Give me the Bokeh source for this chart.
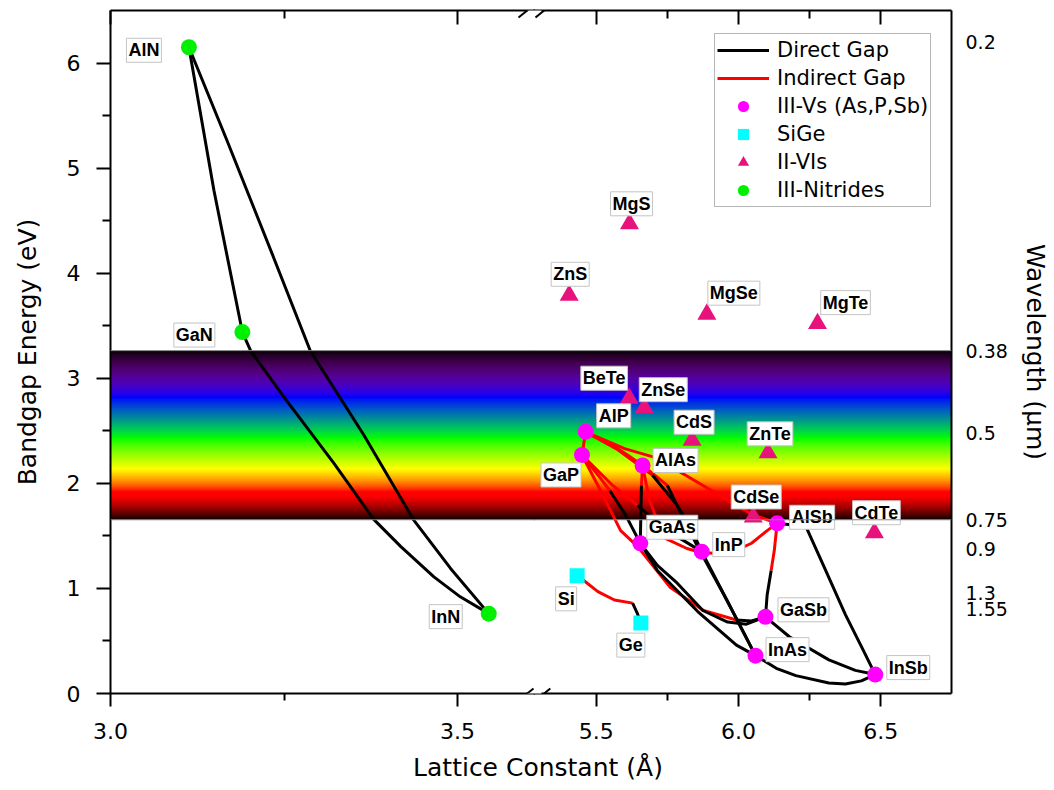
import numpy as np
from bokeh.plotting import figure
from bokeh.models import (Range1d, LinearAxis, FixedTicker, Span, Legend, LegendItem,
                          ColumnDataSource, Div, Arrow, PrintfTickFormatter)
from bokeh.layouts import row, column
from bokeh.embed import file_html
from bokeh.resources import INLINE
from bokeh.core.properties import value

# ---------------- data (lattice constant in Angstrom, gap in eV) ----------------
nitride_names = ["AlN", "GaN", "InN"]
nitride_a = [3.113, 3.190, 3.545]
nitride_eg = [6.15, 3.44, 0.76]

iii_v_names = ["AlP", "GaP", "AlAs", "GaAs", "InP", "AlSb", "GaSb", "InAs", "InSb"]
iii_v_a = [5.463, 5.450, 5.663, 5.655, 5.871, 6.136, 6.095, 6.060, 6.481]
iii_v_eg = [2.49, 2.27, 2.17, 1.43, 1.35, 1.62, 0.73, 0.36, 0.18]

sige_names = ["Si", "Ge"]
sige_a = [5.433, 5.657]
sige_eg = [1.12, 0.67]

ii_vi_names = ["MgS", "ZnS", "MgSe", "MgTe", "BeTe", "ZnSe", "CdS", "ZnTe", "CdSe", "CdTe"]
ii_vi_a = [5.617, 5.405, 5.889, 6.278, 5.616, 5.669, 5.837, 6.104, 6.052, 6.478]
ii_vi_eg = [4.47, 3.79, 3.61, 3.52, 2.81, 2.72, 2.41, 2.29, 1.68, 1.53]

wavelength_ticks_um = [0.2, 0.38, 0.5, 0.75, 0.9, 1.3, 1.55]
visible_um = [0.38, 0.75]

# alloy curves: (lattice constants, gaps)
# direct-gap branches (black)
AlN_GaN = ([3.113, 3.149, 3.190], [6.15, 4.79, 3.44])
AlN_InN = ([3.113, 3.168, 3.235, 3.288, 3.365, 3.437, 3.490, 3.545],
           [6.15, 5.26, 4.15, 3.26, 2.46, 1.65, 1.19, 0.76])
GaN_InN = ([3.190, 3.202, 3.250, 3.322, 3.379, 3.418, 3.466, 3.504, 3.545],
           [3.44, 3.26, 2.82, 2.19, 1.66, 1.40, 1.11, 0.92, 0.76])
AlAs_GaAs_d = ([5.659, 5.655], [1.98, 1.43])
GaP_GaAs_d = ([5.548, 5.603, 5.655], [1.93, 1.70, 1.43])
AlP_InP_d = ([5.697, 5.785, 5.837, 5.871], [2.08, 1.79, 1.55, 1.35])
GaP_InP_d = ([5.645, 5.750, 5.871], [1.79, 1.55, 1.35])
AlAs_InAs_d = ([5.750, 5.854, 5.959, 6.060], [1.98, 1.41, 0.89, 0.36])
GaAs_InAs = ([5.655, 5.715, 5.857, 5.993, 6.060], [1.43, 1.17, 0.78, 0.46, 0.36])
InP_InAs = ([5.871, 5.959, 6.060], [1.35, 0.89, 0.36])
GaAs_GaSb = ([5.655, 5.715, 5.785, 5.875, 5.962, 6.028, 6.095],
             [1.43, 1.22, 1.05, 0.79, 0.68, 0.66, 0.73])
GaP_GaSb_d = ([5.993, 6.046, 6.095], [0.70, 0.69, 0.73])
AlSb_GaSb_d = ([6.115, 6.101, 6.095], [1.17, 0.94, 0.73])
AlSb_InSb = ([6.136, 6.237, 6.307, 6.376, 6.439, 6.481], [1.62, 1.59, 1.17, 0.75, 0.41, 0.18])
GaSb_InSb = ([6.095, 6.179, 6.318, 6.411, 6.481], [0.73, 0.54, 0.32, 0.22, 0.18])
InAs_InSb = ([6.060, 6.133, 6.202, 6.318, 6.376, 6.432, 6.481],
             [0.36, 0.24, 0.17, 0.10, 0.09, 0.12, 0.18])
Si_Ge_d = ([5.628, 5.645, 5.657], [0.86, 0.76, 0.67])
# indirect-gap branches (red)
AlP_GaP_i = ([5.463, 5.450], [2.49, 2.27])
AlP_AlAs_i = ([5.463, 5.564, 5.610, 5.663], [2.49, 2.35, 2.27, 2.17])
AlP_AlSb_i = ([5.463, 5.600, 5.703, 5.819, 5.993, 6.052, 6.136],
              [2.49, 2.33, 2.25, 2.07, 1.79, 1.70, 1.62])
AlAs_AlSb_i = ([5.663, 5.687, 5.739, 5.819, 5.872, 5.966, 6.046, 6.101, 6.136],
               [2.17, 1.84, 1.48, 1.38, 1.34, 1.33, 1.43, 1.55, 1.62])
AlAs_GaAs_i = ([5.663, 5.659], [2.17, 1.98])
GaP_GaAs_i = ([5.450, 5.506, 5.548], [2.27, 2.08, 1.93])
AlP_InP_i = ([5.463, 5.576, 5.697], [2.49, 2.32, 2.08])
GaP_InP_i = ([5.450, 5.558, 5.645], [2.27, 1.98, 1.79])
AlAs_InAs_i = ([5.663, 5.750], [2.17, 1.98])
GaP_GaSb_i = ([5.450, 5.506, 5.586, 5.645, 5.760, 5.877, 5.993],
              [2.27, 1.98, 1.55, 1.40, 1.01, 0.79, 0.70])
AlSb_GaSb_i = ([6.136, 6.126, 6.115], [1.62, 1.36, 1.17])
Si_Ge_i = ([5.433, 5.454, 5.506, 5.564, 5.628], [1.12, 1.08, 0.97, 0.89, 0.86])

left_direct = [AlN_GaN, AlN_InN, GaN_InN]
right_direct = [AlAs_GaAs_d, GaP_GaAs_d, AlP_InP_d, GaP_InP_d, AlAs_InAs_d, GaAs_InAs,
                InP_InAs, GaAs_GaSb, GaP_GaSb_d, AlSb_GaSb_d, AlSb_InSb, GaSb_InSb,
                InAs_InSb, Si_Ge_d]
right_indirect = [AlP_GaP_i, AlP_AlAs_i, AlP_AlSb_i, AlAs_AlSb_i, AlAs_GaAs_i, GaP_GaAs_i,
                  AlP_InP_i, GaP_InP_i, AlAs_InAs_i, GaP_GaSb_i, AlSb_GaSb_i, Si_Ge_i]

# ---------------- styling / layout ----------------
SANS = "DejaVu Sans"
TAG_FONT = "Liberation Sans"
MAGENTA, CYAN, PINK, GREEN = "#ff00ff", "#00ffff", "#e8127c", "#00f000"

# label offsets in screen pixels (dx, dy)
tag_offsets = {
    "AlN": (-45, 3), "GaN": (-48, 3), "InN": (-43, 3),
    "AlP": (28, -16), "GaP": (-21, 20), "AlAs": (33, -5), "GaAs": (32, -16),
    "InP": (27, -7), "AlSb": (35, -6), "GaSb": (38, -7), "InAs": (32, -6), "InSb": (33, -7),
    "Si": (-11, 23), "Ge": (-10, 22),
    "MgS": (2, -20), "ZnS": (1, -21), "MgSe": (27, -21), "MgTe": (28, -21),
    "BeTe": (-25, -20), "ZnSe": (19, -18), "CdS": (2, -18), "ZnTe": (2, -19),
    "CdSe": (3, -20), "CdTe": (2, -20),
}

FRAME_TOP, FRAME_H = 10, 683
PX_PER_A_LEFT = 694.0
PX_PER_A_RIGHT = 287.2
PX_PER_EV = FRAME_H / 6.5
H = 745
y_range = Range1d(0.0, 6.5)
x_left = Range1d(3.0, 3.0 + 425 / PX_PER_A_LEFT)
x_right = Range1d(5.5 - 63.3 / PX_PER_A_RIGHT, 5.5 + 358.7 / PX_PER_A_RIGHT)


def style_axis(ax, out_major, out_minor, size):
    ax.axis_line_width = 2
    ax.major_tick_line_width = 2
    ax.minor_tick_line_width = 2
    ax.major_tick_out = out_major
    ax.major_tick_in = 0
    ax.minor_tick_out = out_minor
    ax.minor_tick_in = 0
    ax.major_label_text_font = SANS
    ax.major_label_text_font_size = size
    ax.major_label_text_color = "black"
    ax.axis_label_text_font = SANS
    ax.axis_label_text_font_size = "25px"
    ax.axis_label_text_font_style = "normal"
    ax.axis_label_text_color = "black"


def make_fig(xr, width, bl, br, yloc, majors, minors):
    p = figure(width=width, height=H, x_range=xr, y_range=y_range, output_backend="svg",
               toolbar_location=None, y_axis_location=yloc,
               min_border_left=bl, min_border_right=br, min_border_top=FRAME_TOP,
               min_border_bottom=H - FRAME_TOP - FRAME_H,
               outline_line_color=None, background_fill_color=None, border_fill_color=None)
    p.grid.visible = False
    p.xaxis.ticker = FixedTicker(ticks=majors, minor_ticks=minors)
    p.xaxis.formatter = PrintfTickFormatter(format="%.1f")
    style_axis(p.xaxis[0], 13, 7, "22px")
    p.xaxis.major_label_standoff = 16
    top = LinearAxis(ticker=FixedTicker(ticks=majors, minor_ticks=minors))
    style_axis(top, 0, 0, "1px")
    top.major_label_text_color = None
    top.major_tick_in = 14
    top.minor_tick_in = 8
    top.major_label_standoff = 0
    p.add_layout(top, "above")
    return p


def spectrum_image(e_lo, e_hi, n=400, ncol=64):
    e = e_lo + (np.arange(n) + 0.5) / n * (e_hi - e_lo)
    lam = 1240.0 / e
    r = np.zeros(n); g = np.zeros(n); b = np.zeros(n)
    m = lam < 440; r[m] = -(lam[m] - 440) / 60; b[m] = 1
    m = (lam >= 440) & (lam < 510); g[m] = (lam[m] - 440) / 70; b[m] = 1 - (lam[m] - 440) / 70
    m = (lam >= 510) & (lam < 580); r[m] = (lam[m] - 510) / 70; g[m] = 1
    m = (lam >= 580) & (lam < 645); r[m] = 1; g[m] = -(lam[m] - 645) / 65
    m = lam >= 645; r[m] = 1
    f = np.ones(n)
    m = lam < 440; f[m] = np.clip((lam[m] - 380) / 60, 0, 1)
    m = lam > 660; f[m] = np.clip((750 - lam[m]) / 90, 0, 1)
    rgb = [np.clip(255 * (c * f) ** 0.8, 0, 255).astype(np.uint8) for c in (r, g, b)]
    img = np.empty((n, ncol), dtype=np.uint32)
    view = img.view(dtype=np.uint8).reshape((n, ncol, 4))
    for k in range(3):
        view[:, :, k] = rgb[k][:, None]
    view[:, :, 3] = 255
    return img


e_hi = 1.24 / visible_um[0]
e_lo = 1.24 / visible_um[1]
band = spectrum_image(e_lo, e_hi)


def add_band(p, xr, px_per_a):
    pad = 12 / px_per_a
    p.image_rgba(image=[band], x=xr.start - pad, y=e_lo, dw=xr.end - xr.start + 2 * pad,
                 dh=e_hi - e_lo)
    for loc in (e_lo, e_hi):
        p.add_layout(Span(location=loc, dimension="width", line_color="#8a8a8a", line_width=1))


def add_curves(p, curves, color):
    return p.multi_line(xs=[c[0] for c in curves], ys=[c[1] for c in curves],
                        line_color=color, line_width=3, line_join="round")


def add_tags(p, names, xs, ys):
    src = ColumnDataSource(dict(x=xs, y=ys, t=names,
                                dx=[tag_offsets[n][0] for n in names],
                                dy=[tag_offsets[n][1] for n in names]))
    p.text(x="x", y="y", text="t", source=src, x_offset="dx", y_offset="dy",
           text_font=value(TAG_FONT), text_font_size="18px", text_font_style="bold",
           text_color="black", text_align="center", text_baseline="middle",
           background_fill_color="white", border_line_color="#c4c4c4", border_line_width=1,
           padding=2)


# ---------------- left panel (nitrides) ----------------
pL = make_fig(x_left, 535, 110, 0, "left", [3.0, 3.5], [3.25])
pL.styles = {"z-index": "2"}
yax = pL.yaxis[0]
yax.ticker = FixedTicker(ticks=[0, 1, 2, 3, 4, 5, 6], minor_ticks=[0.5, 1.5, 2.5, 3.5, 4.5, 5.5])
style_axis(yax, 14, 8, "22px")
yax.major_label_standoff = 16
yax.axis_label = "Bandgap Energy (eV)"
yax.axis_label_standoff = 22
add_band(pL, x_left, PX_PER_A_LEFT)
add_curves(pL, left_direct, "black")
pL.scatter(nitride_a, nitride_eg, marker="circle", size=16, fill_color=GREEN, line_color=None)
add_tags(pL, nitride_names, nitride_a, nitride_eg)

# ---------------- right panel ----------------
pR = make_fig(x_right, 519, 0, 97, "right", [5.5, 6.0, 6.5], [5.75, 6.25])
pR.styles = {"transform": "translateX(-2px)", "z-index": "1"}
rax = pR.yaxis[0]
wl_pos = [1.24 / w for w in wavelength_ticks_um]
rax.ticker = FixedTicker(ticks=wl_pos, minor_ticks=[])
rax.major_label_overrides = {pos: str(w) for pos, w in zip(wl_pos, wavelength_ticks_um)}
style_axis(rax, 0, 0, "19px")
rax.major_label_standoff = 14
rax.axis_label = "Wavelength (\u00b5m)"
rax.axis_label_standoff = 10
add_band(pR, x_right, PX_PER_A_RIGHT)
r_ind = add_curves(pR, right_indirect, "#ff0000")
r_dir = add_curves(pR, right_direct, "black")
r_35 = pR.scatter(iii_v_a, iii_v_eg, marker="circle", size=16, fill_color=MAGENTA, line_color=None)
r_sg = pR.scatter(sige_a, sige_eg, marker="square", size=15, fill_color=CYAN, line_color=None)
r_26 = pR.scatter(ii_vi_a, ii_vi_eg, marker="triangle", size=19, fill_color=PINK, line_color=None)
# nitrides lie left of the break; drawn here (outside the visible range) only for the legend
r_nit = pR.scatter(nitride_a, nitride_eg, marker="circle", size=16, fill_color=GREEN, line_color=None)
add_tags(pR, iii_v_names, iii_v_a, iii_v_eg)
add_tags(pR, sige_names, sige_a, sige_eg)
add_tags(pR, ii_vi_names, ii_vi_a, ii_vi_eg)

legend = Legend(items=[LegendItem(label="Direct Gap", renderers=[r_dir]),
                       LegendItem(label="Indirect Gap", renderers=[r_ind]),
                       LegendItem(label="III-Vs (As,P,Sb)", renderers=[r_35]),
                       LegendItem(label="SiGe", renderers=[r_sg]),
                       LegendItem(label="II-VIs", renderers=[r_26]),
                       LegendItem(label="III-Nitrides", renderers=[r_nit])],
                location=(181, 486), padding=2, margin=0, spacing=0,
                glyph_width=52, glyph_height=28, label_height=28, label_standoff=8,
                label_text_font=SANS, label_text_font_size="21px", label_text_color="black",
                border_line_color="#707070", border_line_width=1,
                background_fill_color="white", background_fill_alpha=1.0)
pR.add_layout(legend)

# ---------------- axis break marks ----------------
dxl = 1 / PX_PER_A_LEFT
dxr = 1 / PX_PER_A_RIGHT
dy = 1 / PX_PER_EV
for ybase in (y_range.start, y_range.end):
    pL.add_layout(Arrow(end=None, x_start=x_left.end - 8 * dxl, y_start=ybase,
                        x_end=x_left.end, y_end=ybase, line_color="white", line_width=5))
    pL.add_layout(Arrow(end=None, x_start=x_left.end - 17 * dxl, y_start=ybase - 7 * dy,
                        x_end=x_left.end - 2 * dxl, y_end=ybase + 5 * dy,
                        line_color="black", line_width=2))
    pR.add_layout(Arrow(end=None, x_start=x_right.start, y_start=ybase,
                        x_end=x_right.start + 8 * dxr, y_end=ybase, line_color="white", line_width=5))
    pR.add_layout(Arrow(end=None, x_start=x_right.start + 2 * dxr, y_start=ybase - 7 * dy,
                        x_end=x_right.start + 17 * dxr, y_end=ybase + 5 * dy,
                        line_color="black", line_width=2))

xlabel = Div(text='<div style="width:1054px;box-sizing:border-box;padding-left:12px;'
                  'padding-top:3px;line-height:30px;text-align:center;'
                  'font-family:\'DejaVu Sans\';font-size:25px;color:black;">'
                  'Lattice Constant (\u00c5)</div>',
             width=1054, height=45)

layout = column(row(pL, pR), xlabel)
open("out.html", "w").write(file_html(layout, INLINE))
